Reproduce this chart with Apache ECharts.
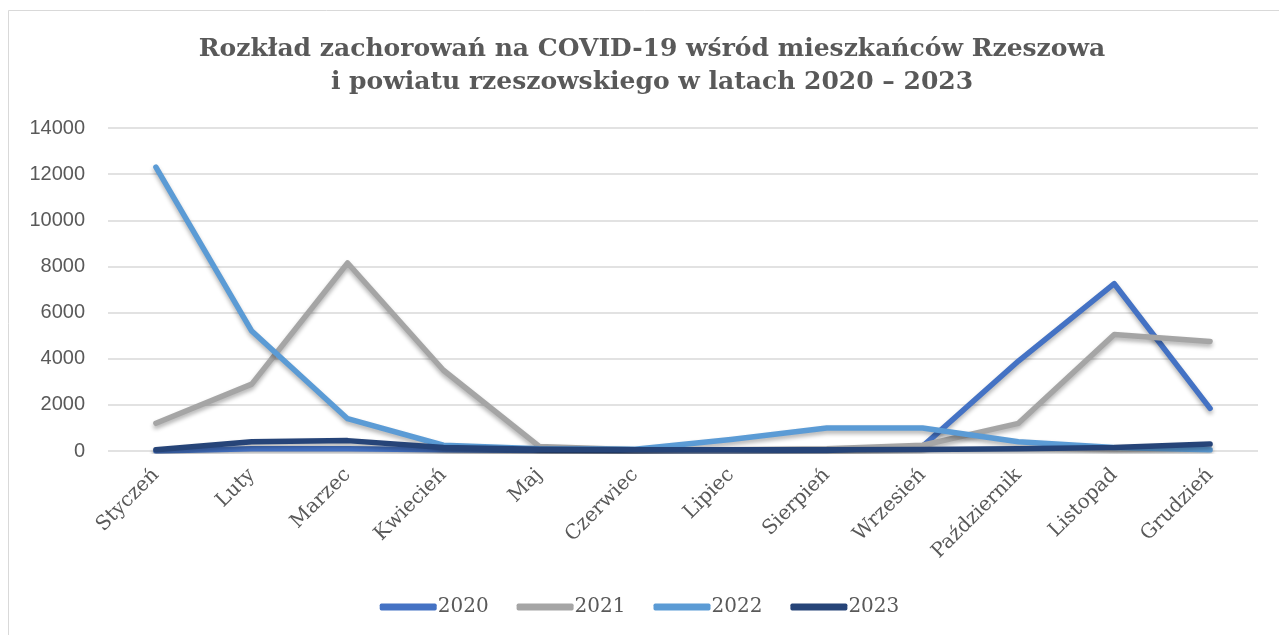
<!DOCTYPE html>
<html>
<head>
<meta charset="utf-8">
<script src="https://cdn.jsdelivr.net/npm/echarts@6/dist/echarts.min.js"></script>
<style>
  html, body { margin: 0; padding: 0; background: #fff; }
  #chart { width: 1279px; height: 635px; }
</style>
</head>
<body>
<div id="chart"></div>
<script>
const months = ['Styczeń', 'Luty', 'Marzec', 'Kwiecień', 'Maj', 'Czerwiec',
  'Lipiec', 'Sierpień', 'Wrzesień', 'Październik', 'Listopad', 'Grudzień']
const years = ['2020', '2021', '2022', '2023']
const colors = ['#4472C4', '#A5A5A5', '#5B9BD5', '#264478']

const cases2020 = [0, 100, 100, 50, 20, 10, 10, 20, 200, 3900, 7250, 1850]
const cases2021 = [1200, 2900, 8150, 3500, 200, 50, 50, 100, 250, 1200, 5050, 4750]
const cases2022 = [12300, 5200, 1400, 250, 100, 80, 500, 1000, 1000, 400, 150, 50]
const cases2023 = [50, 400, 450, 150, 80, 50, 50, 50, 60, 100, 150, 300]

const yTicks = [0, 2000, 4000, 6000, 8000, 10000, 12000, 14000]

const chart = echarts.init(document.getElementById('chart'))

const textColor = '#595959'
const serif = '"DejaVu Serif", serif'

const mkSeries = (name, data, color) => ({
  name: name,
  type: 'line',
  data: data,
  symbol: 'none',
  lineStyle: {
    width: 5.5,
    color: color,
    cap: 'round',
    join: 'round',
    shadowColor: 'rgba(0,0,0,0.3)',
    shadowBlur: 4,
    shadowOffsetY: 3,
  },
  itemStyle: { color: color },
})

chart.setOption({
  animation: false,
  backgroundColor: '#fff',
  graphic: [{
    type: 'rect',
    shape: { x: 8.5, y: 10.5, width: 1400, height: 700 },
    style: { fill: 'none', stroke: '#d9d9d9', lineWidth: 1 },
    silent: true,
  }],
  title: {
    text: 'Rozkład zachorowań na COVID-19 wśród mieszkańców Rzeszowa\ni powiatu rzeszowskiego w latach 2020 – 2023',
    left: 647,
    textAlign: 'center',
    top: 28,
    textStyle: {
      fontFamily: serif,
      fontWeight: 'bold',
      fontSize: 25,
      lineHeight: 33,
      color: textColor,
    },
  },
  legend: {
    data: years,
    bottom: 13,
    left: 'center',
    itemWidth: 57,
    itemHeight: 7,
    itemGap: 28,
    icon: 'roundRect',
    textStyle: {
      fontFamily: serif,
      fontSize: 20,
      color: textColor,
      padding: [0, 0, 0, -4],
    },
  },
  grid: {
    left: 108,
    right: 21,
    top: 128,
    bottom: 184,
    containLabel: false,
  },
  xAxis: {
    type: 'category',
    data: months,
    boundaryGap: true,
    axisLine: { show: false },
    axisTick: { show: false },
    axisLabel: {
      rotate: 45,
      margin: 21,
      interval: 0,
      fontFamily: serif,
      fontSize: 20,
      color: textColor,
    },
  },
  yAxis: {
    type: 'value',
    min: yTicks[0],
    max: yTicks[yTicks.length - 1],
    interval: 2000,
    axisLine: { show: false },
    axisTick: { show: false },
    axisLabel: {
      margin: 23,
      fontFamily: '"Liberation Sans", sans-serif',
      fontSize: 20,
      color: textColor,
      formatter: v => String(v),
    },
    splitLine: { lineStyle: { color: '#d9d9d9', width: 1.5 } },
  },
  series: [
    mkSeries('2020', cases2020, colors[0]),
    mkSeries('2021', cases2021, colors[1]),
    mkSeries('2022', cases2022, colors[2]),
    mkSeries('2023', cases2023, colors[3]),
  ],
})
</script>
</body>
</html>
